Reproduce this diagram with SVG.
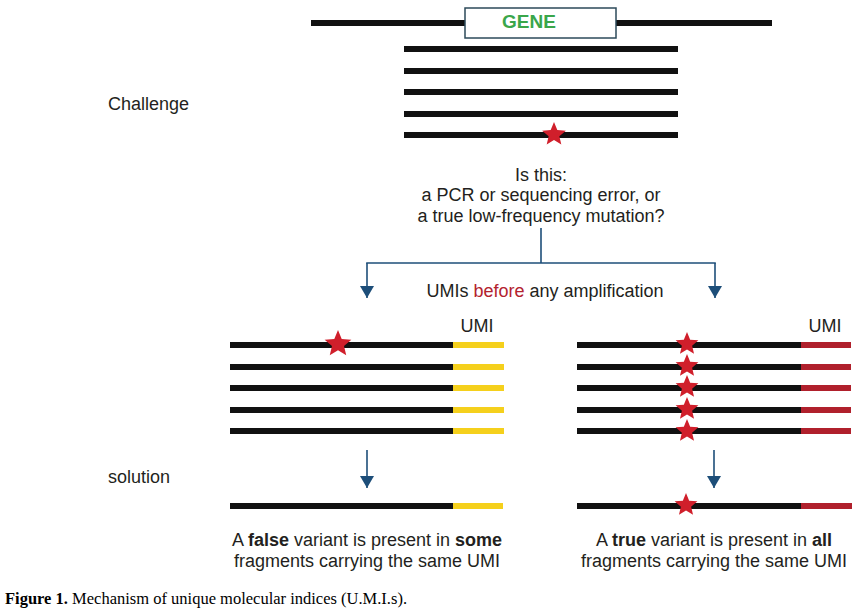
<svg xmlns="http://www.w3.org/2000/svg" width="864" height="614" viewBox="0 0 864 614">
<style>
.t{font-family:"Liberation Sans",Arial,sans-serif;font-size:18px;fill:#231f20}
.b{font-weight:bold}
.dna{stroke:#111;stroke-width:6;fill:none}
.yel{stroke:#f5d01c;stroke-width:6;fill:none}
.red{stroke:#b0202c;stroke-width:6;fill:none}
.con{stroke:#1d4e79;stroke-width:1.6;fill:none}
.cap{font-family:"Liberation Serif","Times New Roman",serif;font-size:16.5px;fill:#000}
</style>
<defs>
<path id="star" d="M0,-13 L3.44,-4.73 L12.36,-4.02 L5.56,1.81 L7.64,10.52 L0,5.85 L-7.64,10.52 L-5.56,1.81 L-12.36,-4.02 L-3.44,-4.73 Z" fill="#d01f2b"/>
<marker id="ah" viewBox="0 0 12 14" refX="12" refY="7" markerWidth="12" markerHeight="14" markerUnits="userSpaceOnUse" orient="auto">
<path d="M0,0 L12,7 L0,14 Z" fill="#1d4e79"/>
</marker>
</defs>
<rect width="864" height="614" fill="#fff"/>

<g id="gene">
<line class="dna" x1="311" y1="23" x2="772" y2="23"/>
<rect x="465" y="8" width="151" height="30" fill="#fff" stroke="#2d4a5a" stroke-width="1.5"/>
<text x="529" y="28" text-anchor="middle" style="font-family:'Liberation Sans',Arial,sans-serif;font-weight:bold;font-size:19px;fill:#3aa64a">GENE</text>
</g>

<g id="challenge-reads">
<line class="dna" x1="404" y1="49" x2="678" y2="49"/>
<line class="dna" x1="404" y1="71" x2="678" y2="71"/>
<line class="dna" x1="404" y1="92" x2="678" y2="92"/>
<line class="dna" x1="404" y1="114" x2="678" y2="114"/>
<line class="dna" x1="404" y1="135" x2="678" y2="135"/>
<use href="#star" transform="translate(554,134.5) scale(0.96)"/>
</g>

<g id="labels">
<text class="t" x="108" y="110">Challenge</text>
<text class="t" x="108" y="483">solution</text>
</g>

<g id="question">
<text class="t" x="541" y="181" text-anchor="middle">Is this:</text>
<text class="t" x="541" y="201" text-anchor="middle">a PCR or sequencing error, or</text>
<text class="t" x="541" y="222" text-anchor="middle">a true low-frequency mutation?</text>
</g>

<g id="method">
<text class="t" x="545" y="297" text-anchor="middle">UMIs <tspan fill="#b3222e">before</tspan> any amplification</text>
</g>

<g id="left-reads">
<text class="t" x="477" y="332" text-anchor="middle">UMI</text>
<line class="dna" x1="230" y1="345" x2="453" y2="345"/>
<line class="dna" x1="230" y1="367" x2="453" y2="367"/>
<line class="dna" x1="230" y1="388" x2="453" y2="388"/>
<line class="dna" x1="230" y1="410" x2="453" y2="410"/>
<line class="dna" x1="230" y1="431" x2="453" y2="431"/>
<line class="yel" x1="453" y1="345" x2="504" y2="345"/>
<line class="yel" x1="453" y1="367" x2="504" y2="367"/>
<line class="yel" x1="453" y1="388" x2="504" y2="388"/>
<line class="yel" x1="453" y1="410" x2="504" y2="410"/>
<line class="yel" x1="453" y1="431" x2="504" y2="431"/>
<use href="#star" transform="translate(338,344) scale(1.08)"/>
</g>

<g id="right-reads">
<text class="t" x="825" y="332" text-anchor="middle">UMI</text>
<line class="dna" x1="577" y1="345" x2="801" y2="345"/>
<line class="dna" x1="577" y1="367" x2="801" y2="367"/>
<line class="dna" x1="577" y1="388" x2="801" y2="388"/>
<line class="dna" x1="577" y1="410" x2="801" y2="410"/>
<line class="dna" x1="577" y1="431" x2="801" y2="431"/>
<line class="red" x1="801" y1="345" x2="851" y2="345"/>
<line class="red" x1="801" y1="367" x2="851" y2="367"/>
<line class="red" x1="801" y1="388" x2="851" y2="388"/>
<line class="red" x1="801" y1="410" x2="851" y2="410"/>
<line class="red" x1="801" y1="431" x2="851" y2="431"/>
<use href="#star" transform="translate(687,344) scale(0.92)"/>
<use href="#star" transform="translate(687,366) scale(0.92)"/>
<use href="#star" transform="translate(687,387) scale(0.92)"/>
<use href="#star" transform="translate(687,409) scale(0.92)"/>
<use href="#star" transform="translate(687,431) scale(0.92)"/>
</g>

<g id="left-result">
<line class="dna" x1="230" y1="506" x2="453" y2="506"/>
<line class="yel" x1="453" y1="506" x2="503" y2="506"/>
<text class="t" x="367" y="546" text-anchor="middle">A <tspan class="b">false</tspan> variant is present in <tspan class="b">some</tspan></text>
<text class="t" x="367" y="567" text-anchor="middle">fragments carrying the same UMI</text>
</g>

<g id="right-result">
<line class="dna" x1="577" y1="506" x2="801" y2="506"/>
<line class="red" x1="801" y1="506" x2="852" y2="506"/>
<use href="#star" transform="translate(686,505) scale(0.92)"/>
<text class="t" x="714" y="546" text-anchor="middle">A <tspan class="b">true</tspan> variant is present in <tspan class="b">all</tspan></text>
<text class="t" x="714" y="567" text-anchor="middle">fragments carrying the same UMI</text>
</g>

<g id="connectors">
<line class="con" x1="541" y1="228" x2="541" y2="263"/>
<line class="con" x1="366.2" y1="263" x2="715.8" y2="263"/>
<line class="con" x1="367" y1="263" x2="367" y2="298" marker-end="url(#ah)"/>
<line class="con" x1="715" y1="263" x2="715" y2="298" marker-end="url(#ah)"/>
<line class="con" x1="367" y1="450" x2="367" y2="488" marker-end="url(#ah)"/>
<line class="con" x1="714" y1="450" x2="714" y2="488" marker-end="url(#ah)"/>
</g>

<g id="caption">
<text class="cap" x="5" y="604"><tspan font-weight="bold">Figure 1.</tspan> Mechanism of unique molecular indices (U.M.I.s).</text>
</g>
</svg>
